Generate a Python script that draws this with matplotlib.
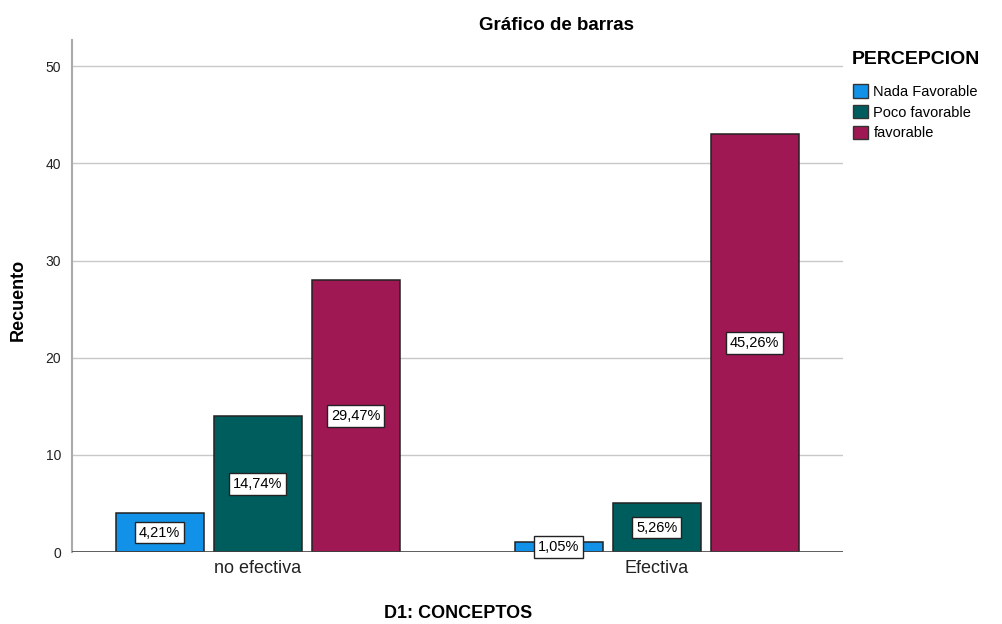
import numpy as np
import matplotlib.pyplot as plt
from matplotlib.patches import Patch

plt.rcParams['font.family'] = ['Liberation Sans', 'DejaVu Sans']

categorias = ['no efectiva', 'Efectiva']
series = ['Nada Favorable', 'Poco favorable', 'favorable']
recuento = {
    'Nada Favorable': [4, 1],
    'Poco favorable': [14, 5],
    'favorable': [28, 43],
}
porcentajes = {
    'Nada Favorable': ['4,21%', '1,05%'],
    'Poco favorable': ['14,74%', '5,26%'],
    'favorable': ['29,47%', '45,26%'],
}
colores = ['#1192e8', '#005d5d', '#9f1853']

fig = plt.figure(figsize=(10.03, 6.24), dpi=100)
ax = fig.add_axes([72/1003, 72/624, 771/1003, 512/624])

x = np.arange(len(categorias))
ancho = 0.2206
paso = 0.2456

for i, s in enumerate(series):
    pos = x + (i - 1) * paso
    vals = recuento[s]
    ax.bar(pos, vals, width=ancho, color=colores[i], edgecolor='#222222',
           linewidth=1.1, zorder=3)
    for xp, v, etq in zip(pos, vals, porcentajes[s]):
        ax.text(xp, v / 2, etq, ha='center', va='center', fontsize=10.5,
                zorder=5,
                bbox=dict(boxstyle='square,pad=0.25', fc='white',
                          ec='#222222', lw=1))

ax.set_xlim(-0.465, 1.467)
ax.set_ylim(0, 52.7)
ax.set_yticks([0, 10, 20, 30, 40, 50])
ax.set_xticks(x)
ax.set_xticklabels(categorias, fontsize=13, color='#222222')
ax.tick_params(axis='y', labelsize=10, length=0, pad=8, colors='#222222')
ax.tick_params(axis='x', length=0, pad=6)
ax.grid(axis='y', color='#c8c8c8', linewidth=1, zorder=0)

for lado in ['top', 'right', 'bottom']:
    ax.spines[lado].set_visible(False)
ax.spines['left'].set_color('#aaaaaa')
ax.spines['left'].set_linewidth(1.5)
ax.axhline(0, color='#444444', linewidth=1.2, zorder=4)

fig.text(18/1003, 1 - 300/624, 'Recuento', fontsize=13, fontweight='bold',
         ha='center', va='center', rotation=90)
fig.text(458/1003, 1 - 613/624, 'D1: CONCEPTOS', fontsize=13,
         fontweight='bold', ha='center', va='center')
fig.text(557/1003, 1 - 25/624, 'Gráfico de barras', fontsize=13.5,
         fontweight='bold', ha='center', va='center')
fig.text(852/1003, 1 - 60/624, 'PERCEPCION', fontsize=14,
         fontweight='bold', ha='left', va='center')

handles = [Patch(facecolor=c, edgecolor='#333333', label=s)
           for c, s in zip(colores, series)]
leg = fig.legend(handles=handles, loc='upper left',
                 bbox_to_anchor=(853/1003, 1 - 84/624), frameon=False,
                 fontsize=10.5, handlelength=1.05, handleheight=1.05,
                 handletextpad=0.35, labelspacing=0.42, borderaxespad=0,
                 borderpad=0)

fig.savefig('out.png', dpi=100)
